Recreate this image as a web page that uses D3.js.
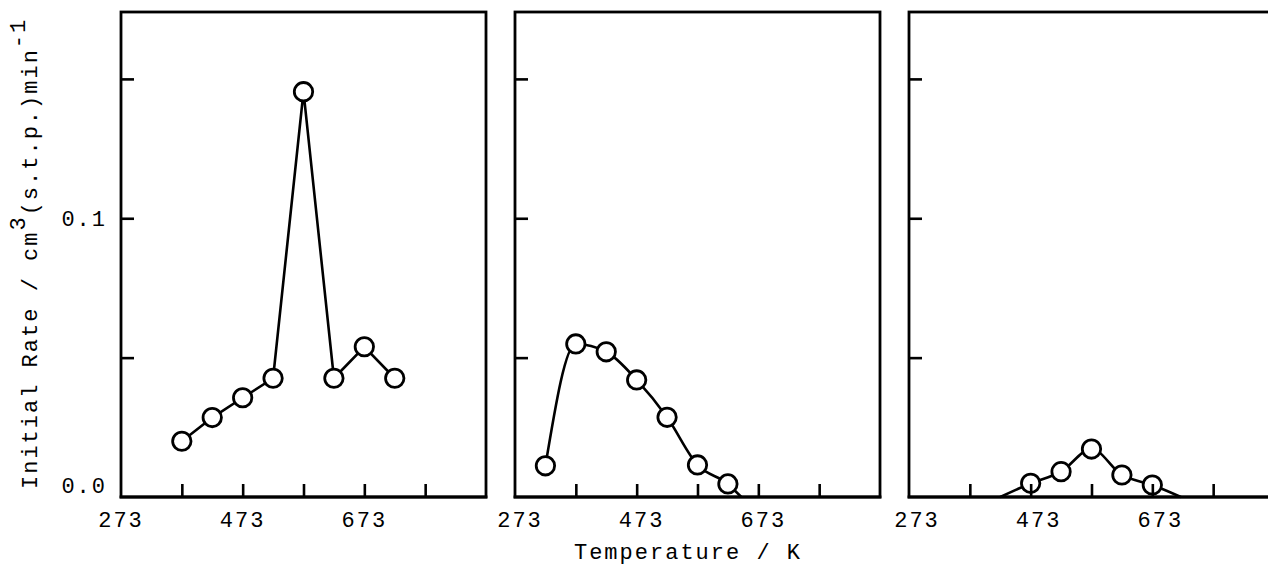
<!DOCTYPE html>
<html>
<head>
<meta charset="utf-8">
<script src="https://cdn.jsdelivr.net/npm/d3@7"></script>
<style>
  body { margin: 0; background: #fff; }
  text { font-family: "Liberation Mono", "DejaVu Sans Mono", monospace; fill: #000; }
</style>
</head>
<body>
<div id="chart"></div>
<script>
// temperatures (K) and initial rates
const temps1 = [373, 423, 473, 523, 573, 623, 673, 723];
const rates1 = [0.0200, 0.0285, 0.0356, 0.0426, 0.1454, 0.0426, 0.0539, 0.0426];

const temps2 = [323, 373, 423, 473, 523, 573, 623];
const rates2 = [0.0112, 0.0549, 0.0521, 0.0420, 0.0286, 0.0115, 0.0047];

const temps3 = [473, 523, 573, 623, 673];
const rates3 = [0.0049, 0.0091, 0.0172, 0.0079, 0.0043];

// ends of the drawn curves that have no marker
const tailT2 = [645];
const tailR2 = [0];
const tailT3 = [423, 720];
const tailR3 = [0, 0];

const xTicks = [373, 473, 573, 673, 773];
const xTickLabels = [273, 473, 673];
const yTicks = [0.05, 0.1, 0.15];
const yTickLabels = [0.0, 0.1];

const width = 1268, height = 567;
const plotTop = 12, plotBottom = 497, panelW = 365;
const panelX = [121, 515, 909];
const labelShift = [0, 5, 8];

const svg = d3.select('#chart')
    .append('svg')
    .attr('width', width)
    .attr('height', height);

const y = d3.scaleLinear().domain([0, 0.174]).range([plotBottom, plotTop]);

const panels = [
    { t: temps1, r: rates1, tailT: [], tailR: [], curve: d3.curveLinear, yLabels: true },
    { t: temps2, r: rates2, tailT: tailT2, tailR: tailR2, curve: d3.curveMonotoneX, yLabels: false },
    { t: temps3, r: rates3, tailT: tailT3, tailR: tailR3, curve: d3.curveMonotoneX, yLabels: false }
];

panels.forEach((p, i) => {
    const x = d3.scaleLinear().domain([273, 873]).range([0, panelW]);
    const g = svg.append('g').attr('transform', `translate(${panelX[i]}, 0)`);

    // frame
    g.append('rect')
        .attr('x', 0).attr('y', plotTop)
        .attr('width', panelW).attr('height', plotBottom - plotTop)
        .attr('fill', 'none').attr('stroke', '#000').attr('stroke-width', 2.8);
    g.append('line')
        .attr('x1', -1.4).attr('x2', panelW + 1.4)
        .attr('y1', plotBottom).attr('y2', plotBottom)
        .attr('stroke', '#000').attr('stroke-width', 3.2);

    // line through points
    const pts = p.t.map((t, k) => [t, p.r[k]])
        .concat(p.tailT.map((t, k) => [t, p.tailR[k]]))
        .sort((a, b) => a[0] - b[0]);
    const line = d3.line()
        .x(d => x(d[0]))
        .y(d => y(d[1]))
        .curve(p.curve);
    g.append('path')
        .attr('d', line(pts))
        .attr('fill', 'none')
        .attr('stroke', '#000')
        .attr('stroke-width', 2.6);

    g.selectAll('circle')
        .data(p.t.map((t, k) => [t, p.r[k]]))
        .enter()
        .append('circle')
        .attr('cx', d => x(d[0]))
        .attr('cy', d => y(d[1]))
        .attr('r', 9.2)
        .attr('fill', '#fff')
        .attr('stroke', '#000')
        .attr('stroke-width', 2.8);

    // inward ticks
    const xAxis = g.append('g')
        .attr('transform', `translate(0, ${plotBottom})`)
        .call(d3.axisBottom(x).tickValues(xTicks).tickSize(-13).tickFormat(''));
    const yAxis = g.append('g')
        .call(d3.axisLeft(y).tickValues(yTicks).tickSize(-13).tickFormat(''));
    [xAxis, yAxis].forEach(a => {
        a.select('.domain').remove();
        a.selectAll('.tick line').attr('stroke', '#000').attr('stroke-width', 2.6);
    });

    g.selectAll('.xlab')
        .data(xTickLabels)
        .enter()
        .append('text')
        .attr('x', d => x(d) + labelShift[i])
        .attr('y', 527)
        .attr('text-anchor', 'middle')
        .attr('font-size', 22)
        .attr('letter-spacing', 2)
        .text(d => d);

    if (p.yLabels) {
        g.selectAll('.ylab')
            .data(yTickLabels)
            .enter()
            .append('text')
            .attr('x', -14)
            .attr('y', d => y(d) + (d === 0 ? -4 : 8))
            .attr('text-anchor', 'end')
            .attr('font-size', 22)
            .attr('letter-spacing', 2)
            .text(d => d3.format('.1f')(d));
    }
});

// axis titles
const yTitle = svg.append('text')
    .attr('transform', 'translate(37, 489) rotate(-90)')
    .attr('font-size', 22)
    .attr('letter-spacing', 2);
yTitle.append('tspan').text('Initial Rate / cm');
yTitle.append('tspan').attr('dy', -12).text('3');
yTitle.append('tspan').attr('dy', 12).text('(s.t.p.)min');
yTitle.append('tspan').attr('dy', -12).text('-1');

svg.append('text')
    .attr('x', 688)
    .attr('y', 559)
    .attr('text-anchor', 'middle')
    .attr('font-size', 22)
    .attr('letter-spacing', 2)
    .text('Temperature / K');
</script>
</body>
</html>
